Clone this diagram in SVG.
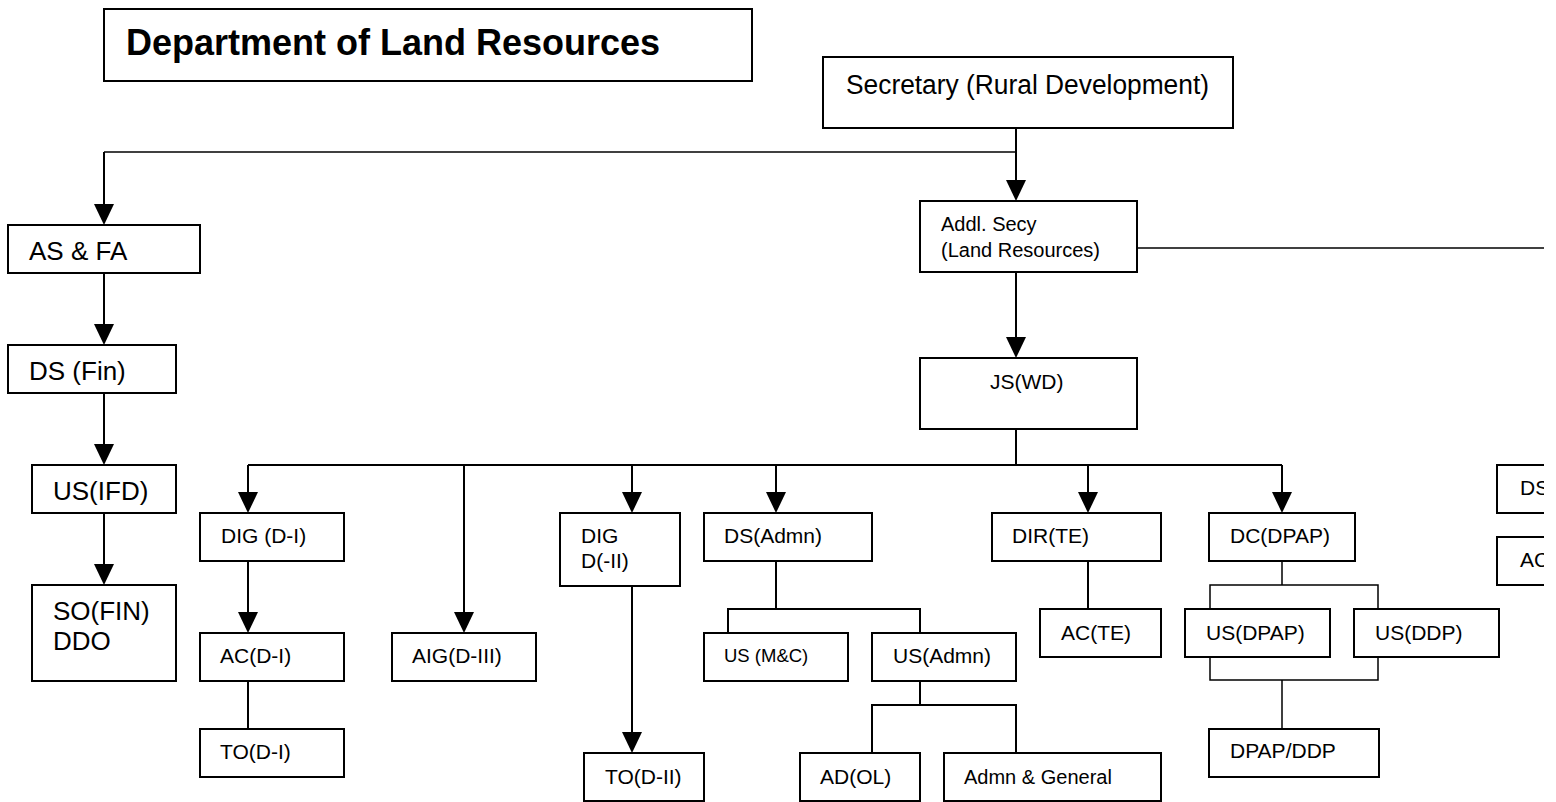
<svg xmlns="http://www.w3.org/2000/svg" width="1556" height="802" viewBox="0 0 1556 802">
<style>
.box{fill:#fff;stroke:#000;stroke-width:2}
.ln{fill:none;stroke:#000;stroke-width:2}
.tn{fill:none;stroke:#000;stroke-width:1.5}
.ar{fill:none;stroke:#000;stroke-width:2;marker-end:url(#ah)}
text{font-family:"Liberation Sans",Arial,sans-serif;fill:#000}
.t21{font-size:21px}
.t20{font-size:20px}
.t26{font-size:26px}
</style>
<defs>
<marker id="ah" viewBox="0 0 21 20" markerWidth="21" markerHeight="20" markerUnits="userSpaceOnUse" refX="11" refY="10" orient="auto">
<path d="M0,0 L21,10 L0,20 Z" fill="#000"/>
</marker>
<clipPath id="edge"><rect x="0" y="0" width="1544" height="802"/></clipPath>
</defs>
<rect width="1556" height="802" fill="#fff"/>

<g id="connectors">
<path class="ar" d="M1016,128 V191"/>
<path class="tn" d="M1016,152 H104"/>
<path class="ar" d="M104,152 V215"/>
<path class="ar" d="M104,273 V335"/>
<path class="ar" d="M104,393 V455"/>
<path class="ar" d="M104,513 V575"/>
<path class="tn" d="M1137,248 H1544"/>
<path class="ar" d="M1016,272 V348"/>
<path class="ln" d="M1016,429 V465"/>
<path class="ln" d="M248,465 H1282"/>
<path class="ar" d="M248,465 V503"/>
<path class="ar" d="M464,465 V623"/>
<path class="ar" d="M632,465 V503"/>
<path class="ar" d="M776,465 V503"/>
<path class="ar" d="M1088,465 V503"/>
<path class="ar" d="M1282,465 V503"/>
<path class="ar" d="M248,561 V623"/>
<path class="ln" d="M248,681 V729"/>
<path class="ar" d="M632,586 V743"/>
<path class="ln" d="M776,561 V609 M728,633 V609 H920 V633"/>
<path class="ln" d="M920,681 V705 M872,753 V705 H1016 V753"/>
<path class="ln" d="M1088,561 V609"/>
<path class="tn" d="M1282,561 V585 M1210,609 V585 H1378 V609"/>
<path class="tn" d="M1210,657 V680 H1378 V657 M1282,680 V729"/>
</g>

<g id="title"><rect class="box" x="104" y="9" width="648" height="72"/><text x="126" y="55" font-size="36" font-weight="bold">Department of Land Resources</text></g>
<g id="secretary"><rect class="box" x="823" y="57" width="410" height="71"/><text x="846" y="94" font-size="27" textLength="363" lengthAdjust="spacingAndGlyphs">Secretary (Rural Development)</text></g>
<g id="addl-secy"><rect class="box" x="920" y="201" width="217" height="71"/><text class="t20" x="941" y="231">Addl. Secy</text><text class="t20" x="941" y="257">(Land Resources)</text></g>
<g id="js-wd"><rect class="box" x="920" y="358" width="217" height="71"/><text class="t21" x="990" y="389">JS(WD)</text></g>

<g id="as-fa"><rect class="box" x="8" y="225" width="192" height="48"/><text class="t26" x="29" y="260">AS &amp; FA</text></g>
<g id="ds-fin"><rect class="box" x="8" y="345" width="168" height="48"/><text class="t26" x="29" y="380">DS (Fin)</text></g>
<g id="us-ifd"><rect class="box" x="32" y="465" width="144" height="48"/><text class="t26" x="53" y="500">US(IFD)</text></g>
<g id="so-fin"><rect class="box" x="32" y="585" width="144" height="96"/><text class="t26" x="53" y="620">SO(FIN)</text><text class="t26" x="53" y="650">DDO</text></g>

<g id="dig-d1"><rect class="box" x="200" y="513" width="144" height="48"/><text class="t21" x="221" y="543">DIG (D-I)</text></g>
<g id="ac-d1"><rect class="box" x="200" y="633" width="144" height="48"/><text class="t21" x="220" y="663">AC(D-I)</text></g>
<g id="to-d1"><rect class="box" x="200" y="729" width="144" height="48"/><text class="t21" x="220" y="759">TO(D-I)</text></g>
<g id="aig-d3"><rect class="box" x="392" y="633" width="144" height="48"/><text class="t21" x="412" y="663">AIG(D-III)</text></g>

<g id="dig-d2"><rect class="box" x="560" y="513" width="120" height="73"/><text class="t21" x="581" y="543">DIG</text><text class="t21" x="581" y="568">D(-II)</text></g>
<g id="to-d2"><rect class="box" x="584" y="753" width="120" height="48"/><text class="t21" x="605" y="784">TO(D-II)</text></g>

<g id="ds-admn"><rect class="box" x="704" y="513" width="168" height="48"/><text class="t21" x="724" y="543">DS(Admn)</text></g>
<g id="us-mc"><rect class="box" x="704" y="633" width="144" height="48"/><text x="724" y="662" font-size="18.5">US (M&amp;C)</text></g>
<g id="us-admn"><rect class="box" x="872" y="633" width="144" height="48"/><text class="t21" x="893" y="663">US(Admn)</text></g>
<g id="ad-ol"><rect class="box" x="800" y="753" width="120" height="48"/><text class="t21" x="820" y="784">AD(OL)</text></g>
<g id="admn-general"><rect class="box" x="944" y="753" width="217" height="48"/><text class="t20" x="964" y="784">Admn &amp; General</text></g>

<g id="dir-te"><rect class="box" x="992" y="513" width="169" height="48"/><text class="t21" x="1012" y="543">DIR(TE)</text></g>
<g id="ac-te"><rect class="box" x="1040" y="609" width="121" height="48"/><text class="t21" x="1061" y="640">AC(TE)</text></g>

<g id="dc-dpap"><rect class="box" x="1209" y="513" width="146" height="48"/><text class="t21" x="1230" y="543">DC(DPAP)</text></g>
<g id="us-dpap"><rect class="box" x="1185" y="609" width="145" height="48"/><text class="t21" x="1206" y="640">US(DPAP)</text></g>
<g id="us-ddp"><rect class="box" x="1354" y="609" width="145" height="48"/><text class="t21" x="1375" y="640">US(DDP)</text></g>
<g id="dpap-ddp"><rect class="box" x="1209" y="729" width="170" height="48"/><text class="t21" x="1230" y="758">DPAP/DDP</text></g>

<g id="ds-right" clip-path="url(#edge)"><rect class="box" x="1497" y="465" width="120" height="48"/><text class="t21" x="1520" y="495">DS</text></g>
<g id="ac-right" clip-path="url(#edge)"><rect class="box" x="1497" y="537" width="120" height="48"/><text class="t21" x="1520" y="567">AC</text></g>
</svg>
